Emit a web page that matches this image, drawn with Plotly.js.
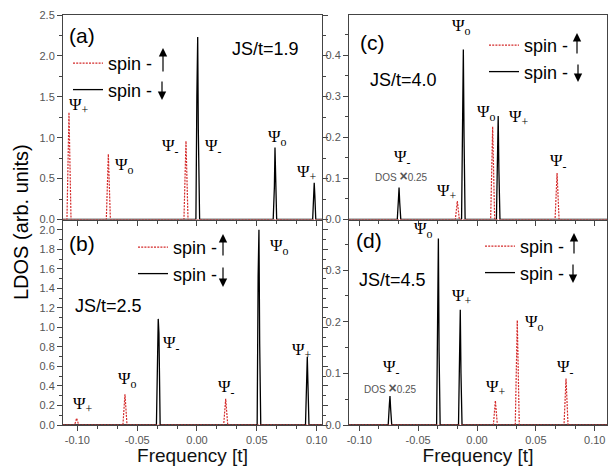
<!DOCTYPE html>
<html><head><meta charset="utf-8">
<script src="https://cdn.plot.ly/plotly-3.0.1.min.js"></script>
<style>html,body{margin:0;padding:0;background:#fff}</style>
</head><body><div id="chart" style="width:608px;height:466px"></div>
<script>
// ---------- data ----------
// Panel (a) JS/t=1.9
const freqA_up = [-0.112, -0.1087, -0.1070, -0.1053, -0.0758, -0.0741, -0.0724, -0.0109, -0.0092, -0.0075, 0.1045];
const ldosA_up = [0, 0, 1.31, 0, 0, 0.80, 0, 0, 0.96, 0, 0];
const freqA_dn = [-0.112, -0.0009, -0.0001, 0.0006, 0.0011, 0.0016, 0.0022, 0.0637, 0.0647, 0.0652, 0.0657, 0.0666, 0.0967, 0.0980, 0.0985, 0.0993, 0.1045];
const ldosA_dn = [0, 0, 1.52, 2.23, 1.11, 0.62, 0, 0, 0.40, 0.88, 0.60, 0, 0, 0.45, 0.30, 0, 0];
// Panel (b) JS/t=2.5
const freqB_up = [-0.112, -0.1023, -0.1006, -0.0989, -0.0619, -0.0602, -0.0585, 0.0223, 0.0240, 0.0257, 0.1045];
const ldosB_up = [0, 0, 0.07, 0, 0, 0.315, 0, 0, 0.268, 0, 0];
const freqB_dn = [-0.112, -0.0339, -0.0324, -0.0318, -0.0308, 0.0503, 0.0511, 0.0518, 0.0524, 0.0533, 0.0907, 0.0922, 0.0927, 0.0936, 0.1045];
const ldosB_dn = [0, 0, 1.087, 0.94, 0, 0, 1.52, 2.0, 0.84, 0, 0, 0.70, 0.45, 0, 0];
// Panel (c) JS/t=4.0
const freqC_up = [-0.1087, -0.0184, -0.0167, -0.0150, 0.0116, 0.0133, 0.0150, 0.0663, 0.0680, 0.0697, 0.1104];
const ldosC_up = [0, 0, 0.045, 0, 0, 0.226, 0, 0, 0.113, 0, 0];
const freqC_dn = [-0.1087, -0.0677, -0.0667, -0.0662, -0.0656, -0.0647, -0.0131, -0.0121, -0.0116, -0.0110, -0.0101, 0.0165, 0.0175, 0.0180, 0.0186, 0.0195, 0.1104];
const ldosC_dn = [0, 0, 0.05, 0.078, 0.04, 0, 0, 0.275, 0.414, 0.2, 0, 0, 0.15, 0.252, 0.12, 0, 0];
// Panel (d) JS/t=4.5
const freqD_up = [-0.1087, 0.0139, 0.0156, 0.0173, 0.0325, 0.0342, 0.0359, 0.0739, 0.0756, 0.0773, 0.1104];
const ldosD_up = [0, 0, 0.047, 0, 0, 0.203, 0, 0, 0.090, 0, 0];
const freqD_dn = [-0.1087, -0.0754, -0.0744, -0.0739, -0.0733, -0.0724, -0.0343, -0.0333, -0.0328, -0.0322, -0.0313, -0.0157, -0.0147, -0.0142, -0.0136, -0.0127, 0.1104];
const ldosD_dn = [0, 0, 0.04, 0.056, 0.03, 0, 0, 0.29, 0.361, 0.142, 0, 0, 0.188, 0.223, 0.10, 0, 0];

const freqTicks = [-0.10, -0.05, 0, 0.05, 0.10];
const freqTickText = ['-0.10', '-0.05', '0.00', '0.05', '0.10'];
const spinUpName = 'spin -';
const spinDnName = 'spin -';
const panelLabels = ['(a)', '(b)', '(c)', '(d)'];
const couplingLabels = ['JS/t=1.9', 'JS/t=2.5', 'JS/t=4.0', 'JS/t=4.5'];

// ---------- styling / layout ----------
const RED = '#d42a2a';
const BLACK = '#000000';
const GRAY = '#555555';
const ML = 63, MT = 15, MB = 41, MR = 1, W = 608, H = 466;
const PW = W - ML - MR, PH = H - MT - MB;
const pX = px => (px - ML) / PW;
const pY = py => (H - MB - py) / PH;

function traces(xs, ys, xa, ya, leg) {
  return [
    {x: xs[1], y: ys[1], xaxis: xa, yaxis: ya, type: 'scatter', mode: 'lines', name: spinDnName,
     line: {color: BLACK, width: 1.3}, legend: leg, legendrank: 2},
    {x: xs[0], y: ys[0], xaxis: xa, yaxis: ya, type: 'scatter', mode: 'lines', name: spinUpName,
     line: {color: RED, width: 1.2, dash: '2px,1.2px'}, legend: leg, legendrank: 1}
  ];
}
const data = [
  ...traces([freqA_up, freqA_dn], [ldosA_up, ldosA_dn], 'x', 'y', 'legend'),
  ...traces([freqB_up, freqB_dn], [ldosB_up, ldosB_dn], 'x2', 'y2', 'legend2'),
  ...traces([freqC_up, freqC_dn], [ldosC_up, ldosC_dn], 'x3', 'y3', 'legend3'),
  ...traces([freqD_up, freqD_dn], [ldosD_up, ldosD_dn], 'x4', 'y4', 'legend4')
];

const tickFont = {family: 'Liberation Sans, Arial, sans-serif', size: 11, color: GRAY};
function xAxis(dom, range, labels, anchor) {
  const ax = {domain: dom, range: range, anchor: anchor, showline: true, linecolor: '#444', linewidth: 1,
    mirror: true, ticks: 'outside', ticklen: 5, tickcolor: '#444', tickmode: 'array',
    tickvals: freqTicks, ticktext: freqTickText, showticklabels: labels, tickfont: tickFont,
    showgrid: false, zeroline: false,
    minor: {dtick: 0.05 / 3, tick0: 0, ticks: 'outside', ticklen: 3, tickcolor: '#444', showgrid: false}};
  if (labels) ax.title = {text: 'Frequency [t]', font: {family: 'Liberation Sans, Arial, sans-serif', size: 19, color: '#111'}, standoff: 2};
  return ax;
}
function yAxis(dom, range, dt, anchor) {
  return {domain: dom, range: range, anchor: anchor, showline: true, linecolor: '#444', linewidth: 1,
    mirror: 'ticks', ticks: 'outside', ticklen: 5, tickcolor: '#444', dtick: dt, tick0: 0, tickformat: '.1f',
    tickfont: tickFont, showgrid: false, zeroline: false,
    minor: {dtick: dt / 2, ticks: 'outside', ticklen: 3, tickcolor: '#444', showgrid: false}};
}
const leftDom = [0, pX(322)], rightDom = [pX(349), 1];
const topDom = [pY(219.5), 1], botDom = [0, pY(221)];

const ann = [];
function txt(t, px, py, size, extra) {
  ann.push(Object.assign({text: t, x: pX(px), y: pY(py), xref: 'paper', yref: 'paper', showarrow: false,
    xanchor: 'center', yanchor: 'middle', font: {family: 'Liberation Sans, Arial, sans-serif', size: size, color: '#000'}}, extra || {}));
}
function psi(sub, px, py) {
  txt('Ψ<sub>' + sub + '</sub>', px, py, 17, {font: {family: 'Liberation Serif, Times New Roman, serif', size: 17, color: '#000'}});
}
function arrow(px, tipY, tailY) {
  ann.push({text: '', x: pX(px), y: pY(tipY), xref: 'paper', yref: 'paper', showarrow: true,
    ax: 0, ay: tailY - tipY, arrowhead: 2, arrowsize: 1.4, arrowwidth: 1.2, arrowcolor: '#000'});
}
// panel + coupling labels
txt(panelLabels[0], 82, 35, 21); txt(panelLabels[1], 82, 243, 21);
txt(panelLabels[2], 372, 43, 21); txt(panelLabels[3], 369, 240, 21);
txt(couplingLabels[0], 265, 49, 18); txt(couplingLabels[1], 108, 306, 18);
txt(couplingLabels[2], 403, 80, 18); txt(couplingLabels[3], 392, 280, 18);
// peak labels
psi('+', 79, 106); psi('o', 124.5, 166); psi('-', 170, 147); psi('-', 213, 147); psi('o', 277, 138); psi('+', 307, 173);
psi('+', 82.5, 405); psi('o', 127, 380); psi('-', 171, 344); psi('-', 226, 388); psi('o', 279, 247); psi('+', 301.5, 351);
psi('-', 402.5, 158); psi('+', 447, 192); psi('o', 461, 27); psi('o', 486, 113); psi('+', 519, 118); psi('-', 558, 162);
psi('-', 391, 368); psi('o', 423, 230); psi('+', 462, 297); psi('+', 496, 388); psi('o', 534, 323); psi('-', 565, 368);
const dosFont = {font: {family: 'Liberation Sans, Arial, sans-serif', size: 10, color: GRAY}};
txt('DOS <span style="font-size:14px"><b>×</b></span>0.25', 401, 176, 10, dosFont);
txt('DOS <span style="font-size:14px"><b>×</b></span>0.25', 390, 388, 10, dosFont);
// y title
txt('LDOS (arb. units)', 21, 222, 20, {textangle: -90});
// legend arrows
arrow(163, 48, 73); arrow(162, 100, 80);
arrow(223, 234, 257); arrow(223, 287, 266);
arrow(577, 33, 55); arrow(578, 82, 63);
arrow(574, 233, 255); arrow(573, 283, 263);

function legend(px, py) {
  return {x: pX(px), y: pY(py), xanchor: 'left', yanchor: 'top', bgcolor: 'rgba(0,0,0,0)', borderwidth: 0,
    traceorder: 'normal', itemwidth: 30, font: {family: 'Liberation Sans, Arial, sans-serif', size: 18, color: '#000'}};
}

const layout = {
  width: W, height: H, margin: {l: ML, r: MR, t: MT, b: MB},
  paper_bgcolor: '#fff', plot_bgcolor: '#fff', showlegend: true,
  font: {family: 'Liberation Sans, Arial, sans-serif'},
  xaxis: xAxis(leftDom, [-0.112, 0.1045], false, 'y'),
  yaxis: yAxis(topDom, [0, 2.5], 0.5, 'x'),
  xaxis2: xAxis(leftDom, [-0.112, 0.1045], true, 'y2'),
  yaxis2: yAxis(botDom, [0, 2.09], 0.2, 'x2'),
  xaxis3: xAxis(rightDom, [-0.1087, 0.1104], false, 'y3'),
  yaxis3: yAxis(topDom, [0, 0.498], 0.1, 'x3'),
  xaxis4: xAxis(rightDom, [-0.1087, 0.1104], true, 'y4'),
  yaxis4: yAxis(botDom, [0, 0.395], 0.1, 'x4'),
  legend: legend(68, 45), legend2: legend(133, 229), legend3: legend(484, 27), legend4: legend(480, 228),
  annotations: ann
};
Plotly.newPlot('chart', data, layout, {displayModeBar: false, staticPlot: true});
</script></body></html>
